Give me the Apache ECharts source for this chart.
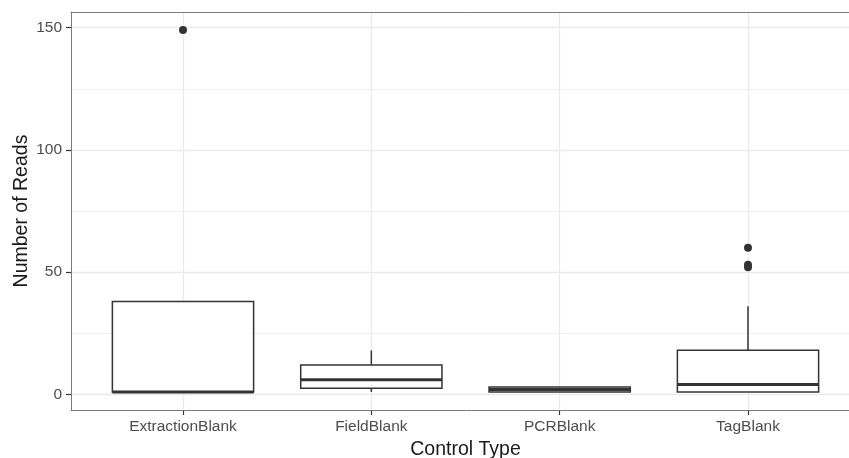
<!DOCTYPE html>
<html>
<head>
<meta charset="utf-8">
<script src="https://cdn.jsdelivr.net/npm/echarts@6/dist/echarts.min.js"></script>
<style>
  html, body { margin: 0; padding: 0; background: #fff; overflow: hidden; }
  #chart { width: 880px; height: 458px; }
</style>
</head>
<body>
<div id="chart"></div>
<script>
// boxplot stats per control type
const categories = ['ExtractionBlank', 'FieldBlank', 'PCRBlank', 'TagBlank']
const whiskerLow = [1, 1, 1, 1]
const lowerQuartile = [1, 2.5, 1, 1]
const medians = [1, 6, 2, 4]
const upperQuartile = [38, 12, 3, 18]
const whiskerHigh = [38, 18, 3, 36]
const outliers = [
  ['ExtractionBlank', 149],
  ['TagBlank', 60],
  ['TagBlank', 53],
  ['TagBlank', 52]
]
const yTicks = [0, 50, 100, 150]
const yMinorTicks = [25, 75, 125]
const yMin = -6.4
const yMax = 156.4

let boxData = categories.map((c, i) => [i, whiskerLow[i], lowerQuartile[i], medians[i], upperQuartile[i], whiskerHigh[i]])

let chart = echarts.init(document.getElementById('chart'))

const fontFamily = '"Liberation Sans", Arial, sans-serif'
const lineColor = '#333333'
const gridColor = '#ebebeb'
const borderStyle = { color: '#7a7a7a', width: 1 }

let gridLines = []
yTicks.forEach(v => {
  gridLines.push({ yAxis: v, lineStyle: { color: gridColor, width: 1.3, type: 'solid' } })
})
yMinorTicks.forEach(v => {
  gridLines.push({ yAxis: v, lineStyle: { color: gridColor, width: 0.7, type: 'solid' } })
})

let option = {
  animation: false,
  backgroundColor: '#fff',
  textStyle: { fontFamily: fontFamily },
  grid: [
    // panel frame (runs past the right edge, as in the original)
    { left: 71, top: 12, width: 791, height: 398, outerBoundsMode: 'none', containLabel: false },
    // data area, first and last category at the band ends
    { left: 183, top: 12, width: 565, height: 398, outerBoundsMode: 'none', containLabel: false }
  ],
  xAxis: [
    {
      gridIndex: 0, type: 'value', min: 0, max: 1, position: 'bottom', z: 6,
      axisLine: { show: true, onZero: false, lineStyle: borderStyle },
      axisTick: { show: false }, axisLabel: { show: false }, splitLine: { show: false }
    },
    {
      gridIndex: 1,
      type: 'category',
      data: categories,
      boundaryGap: false,
      position: 'bottom',
      z: 0,
      name: 'Control Type',
      nameLocation: 'middle',
      nameGap: 26,
      nameTextStyle: { color: '#1a1a1a', fontSize: 19.5, fontFamily: fontFamily },
      axisLine: { show: false, onZero: false },
      axisTick: { show: true, length: 5, lineStyle: { color: lineColor, width: 1.2 } },
      axisLabel: { color: '#4d4d4d', fontSize: 15.5, margin: 9, fontFamily: fontFamily },
      splitLine: { show: true, lineStyle: { color: gridColor, width: 1.3 } }
    },
    {
      gridIndex: 0, type: 'value', min: 0, max: 1, position: 'top', z: 6,
      axisLine: { show: true, onZero: false, lineStyle: borderStyle },
      axisTick: { show: false }, axisLabel: { show: false }, splitLine: { show: false }
    }
  ],
  yAxis: [
    {
      gridIndex: 0,
      type: 'value',
      min: yMin,
      max: yMax,
      z: 6,
      name: 'Number of Reads',
      nameLocation: 'middle',
      nameGap: 39,
      nameMoveOverlap: false,
      nameTextStyle: { color: '#1a1a1a', fontSize: 19.5, fontFamily: fontFamily },
      axisLine: { show: true, onZero: false, lineStyle: borderStyle },
      axisTick: { show: true, length: 5, customValues: yTicks, lineStyle: { color: lineColor, width: 1.2 } },
      axisLabel: { color: '#4d4d4d', fontSize: 15.5, margin: 9, customValues: yTicks, fontFamily: fontFamily },
      splitLine: { show: false }
    },
    { gridIndex: 1, type: 'value', min: yMin, max: yMax, show: false }
  ],
  series: [
    {
      type: 'line',
      xAxisIndex: 0,
      yAxisIndex: 0,
      data: [],
      z: 1,
      silent: true,
      markLine: {
        z: 1,
        silent: true,
        symbol: 'none',
        label: { show: false },
        data: gridLines
      }
    },
    {
      type: 'custom',
      xAxisIndex: 1,
      yAxisIndex: 1,
      z: 3,
      data: boxData,
      encode: { x: 0, y: [1, 2, 3, 4, 5] },
      renderItem: function (params, api) {
        let x = api.value(0)
        let half = api.size([1, 0])[0] * 0.375
        let pLow = api.coord([x, api.value(1)])
        let pQ1 = api.coord([x, api.value(2)])
        let pMed = api.coord([x, api.value(3)])
        let pQ3 = api.coord([x, api.value(4)])
        let pHigh = api.coord([x, api.value(5)])
        let stroke = { stroke: lineColor, lineWidth: 1.5 }
        return {
          type: 'group',
          children: [
            { type: 'line', shape: { x1: pQ3[0], y1: pQ3[1], x2: pHigh[0], y2: pHigh[1] }, style: stroke },
            { type: 'line', shape: { x1: pQ1[0], y1: pQ1[1], x2: pLow[0], y2: pLow[1] }, style: stroke },
            {
              type: 'rect',
              shape: { x: pQ3[0] - half, y: pQ3[1], width: half * 2, height: pQ1[1] - pQ3[1] },
              style: { fill: '#fff', stroke: lineColor, lineWidth: 1.5 }
            },
            {
              type: 'line',
              shape: { x1: pMed[0] - half, y1: pMed[1], x2: pMed[0] + half, y2: pMed[1] },
              style: { stroke: lineColor, lineWidth: 3 }
            }
          ]
        }
      }
    },
    {
      type: 'scatter',
      xAxisIndex: 1,
      yAxisIndex: 1,
      z: 4,
      clip: false,
      data: outliers,
      symbol: 'circle',
      symbolSize: 8,
      itemStyle: { color: lineColor, opacity: 1 }
    }
  ]
}
chart.setOption(option)
</script>
</body>
</html>
